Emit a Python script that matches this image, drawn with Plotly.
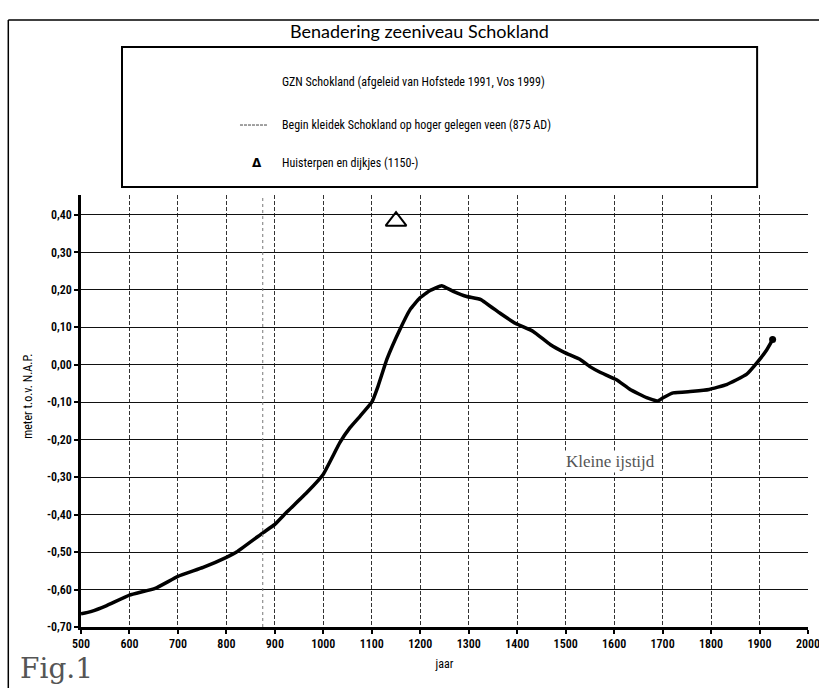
import plotly.graph_objects as go

# ---- data ----
years = [500, 520, 553, 600, 653, 700, 752, 800, 821, 876, 900, 924, 966, 1000,
         1034, 1055, 1076, 1100, 1113, 1131, 1158, 1179, 1199, 1220, 1244, 1268,
         1296, 1325, 1364, 1397, 1433, 1468, 1497, 1530, 1550, 1571, 1605, 1633,
         1667, 1690, 1701, 1722, 1763, 1796, 1832, 1873, 1897, 1915, 1927]
sea_level = [-0.665, -0.659, -0.643, -0.615, -0.597, -0.565, -0.541, -0.514, -0.500,
             -0.448, -0.426, -0.394, -0.341, -0.292, -0.208, -0.168, -0.137, -0.100,
             -0.057, 0.014, 0.094, 0.147, 0.178, 0.198, 0.211, 0.196, 0.182, 0.174,
             0.138, 0.110, 0.089, 0.054, 0.033, 0.014, -0.005, -0.020, -0.040, -0.066,
             -0.088, -0.097, -0.088, -0.075, -0.071, -0.066, -0.053, -0.026, 0.009,
             0.040, 0.067]
terp_year = [1150]
terp_level = [0.383]
kleidek_year = 875

x_ticks = [500, 600, 700, 800, 900, 1000, 1100, 1200, 1300, 1400, 1500, 1600,
           1700, 1800, 1900, 2000]
x_tick_labels = ["500", "600", "700", "800", "900", "1000", "1100", "1200", "1300",
                 "1400", "1500", "1600", "1700", "1800", "1900", "2000"]
y_ticks = [-0.7, -0.6, -0.5, -0.4, -0.3, -0.2, -0.1, 0.0, 0.1, 0.2, 0.3, 0.4]
y_tick_labels = ["-0,70", "-0,60", "-0,50", "-0,40", "-0,30", "-0,20", "-0,10",
                 "0,00", "0,10", "0,20", "0,30", "0,40"]

title_text = "Benadering zeeniveau Schokland"
legend_texts = ["GZN Schokland (afgeleid van Hofstede 1991, Vos 1999)",
                "Begin kleidek Schokland op hoger gelegen veen (875 AD)",
                "Huisterpen en dijkjes (1150-)"]
y_title = "meter t.o.v. N.A.P."
x_title = "jaar"
note_text = "Kleine ijstijd"
note_year = 1593
note_level = -0.258
fig_label = "Fig.1"

SANS = "Liberation Sans Narrow, Roboto Condensed, Arial Narrow, Liberation Sans, sans-serif"
TITLE = "Lato, Open Sans, sans-serif"
SERIF = "Liberation Serif, DejaVu Serif, serif"

fig = go.Figure()

fig.add_trace(go.Scatter(
    x=years, y=sea_level, mode="lines",
    line=dict(color="black", width=3.5, shape="spline", smoothing=0.3),
    hoverinfo="skip", showlegend=False))
fig.add_trace(go.Scatter(
    x=years[-1:], y=sea_level[-1:], mode="markers",
    marker=dict(color="black", size=7), hoverinfo="skip", showlegend=False))
fig.add_trace(go.Scatter(
    x=terp_year, y=terp_level, mode="markers",
    marker=dict(symbol="triangle-up-open", size=18, color="black",
                line=dict(color="black", width=2)),
    hoverinfo="skip", showlegend=False))

shapes = []
# vertical line for 875 AD
shapes.append(dict(type="line", xref="x", yref="paper", x0=kleidek_year, x1=kleidek_year,
                   y0=0, y1=1, line=dict(color="#777", width=1, dash="dot")))
# legend box
shapes.append(dict(type="rect", xref="paper", yref="paper", x0=0.0564, x1=0.930,
                   y0=1.0185, y1=1.3426, line=dict(color="black", width=2),
                   fillcolor="white"))
# legend sample for the 875 line
shapes.append(dict(type="line", xref="paper", yref="paper", x0=0.2187, x1=0.2572,
                   y0=1.162, y1=1.162, line=dict(color="#444", width=1, dash="3px,1px")))
# outer frame (top and left)
shapes.append(dict(type="line", xref="paper", yref="paper", x0=-0.1, x1=1.02,
                   y0=1.405, y1=1.405, line=dict(color="black", width=1.5)))
shapes.append(dict(type="line", xref="paper", yref="paper", x0=-0.1, x1=-0.1,
                   y0=-0.2, y1=1.405, line=dict(color="black", width=1.5)))

annotations = [
    dict(text=title_text, xref="paper", yref="paper", x=0.466, y=1.3796,
         xanchor="center", yanchor="middle",
         showarrow=False, font=dict(family=TITLE, size=18, color="black")),
    dict(text=legend_texts[0], xref="paper", yref="paper", x=0.2737, y=1.2616,
         xanchor="left", yanchor="middle",
         showarrow=False, font=dict(family=SANS, size=12, color="black")),
    dict(text=legend_texts[1], xref="paper", yref="paper", x=0.2737, y=1.162,
         xanchor="left", yanchor="middle",
         showarrow=False, font=dict(family=SANS, size=12, color="black")),
    dict(text="<b>Δ</b>", xref="paper", yref="paper", x=0.242, y=1.074,
         xanchor="center", yanchor="middle",
         showarrow=False, font=dict(family="DejaVu Sans, sans-serif", size=12, color="black")),
    dict(text=legend_texts[2], xref="paper", yref="paper", x=0.2737, y=1.074,
         xanchor="left", yanchor="middle",
         showarrow=False, font=dict(family=SANS, size=12, color="black")),
    dict(text=y_title, xref="paper", yref="paper", x=-0.073, y=0.535, textangle=-90,
         xanchor="center", yanchor="middle",
         showarrow=False, font=dict(family=SANS, size=12, color="black")),
    dict(text=note_text, xref="x", yref="y", x=note_year, y=note_level,
         xanchor="center", yanchor="middle", bgcolor="white",
         showarrow=False, font=dict(family=SERIF, size=17, color="#555")),
    dict(text=fig_label, xref="paper", yref="paper", x=-0.087, y=-0.095,
         xanchor="left", yanchor="middle",
         showarrow=False, font=dict(family="DejaVu Serif, serif", size=28, color="#555")),
]

fig.update_layout(
    width=819, height=688,
    margin=dict(l=81, r=11, t=195, b=61, autoexpand=False),
    paper_bgcolor="white", plot_bgcolor="white",
    shapes=shapes, annotations=annotations,
    font=dict(family=SANS, color="black"),
)
fig.update_xaxes(
    range=[500, 2000], tickvals=x_ticks, ticktext=x_tick_labels,
    showgrid=True, gridcolor="#333", gridwidth=1, griddash="4px,2px",
    showline=True, linecolor="black", linewidth=2.5,
    ticks="outside", ticklen=4, tickwidth=2, tickcolor="black",
    tickfont=dict(family=SANS, size=12, color="black", weight=600),
    ticklabeloverflow="allow", automargin=False,
    title=dict(text=x_title, font=dict(family=SANS, size=12, color="black"), standoff=10),
    zeroline=False,
)
fig.update_yaxes(
    range=[-0.7, 0.453], tickvals=y_ticks, ticktext=y_tick_labels,
    showgrid=True, gridcolor="#111", gridwidth=1.2,
    showline=True, linecolor="black", linewidth=2.5,
    ticks="outside", ticklen=4, tickwidth=2, tickcolor="black",
    tickfont=dict(family=SANS, size=12, color="black", weight=600),
    automargin=False,
    zeroline=False,
)

fig.write_html("out.html", config={"displayModeBar": False},
               post_script="document.body.style.margin='0';")
